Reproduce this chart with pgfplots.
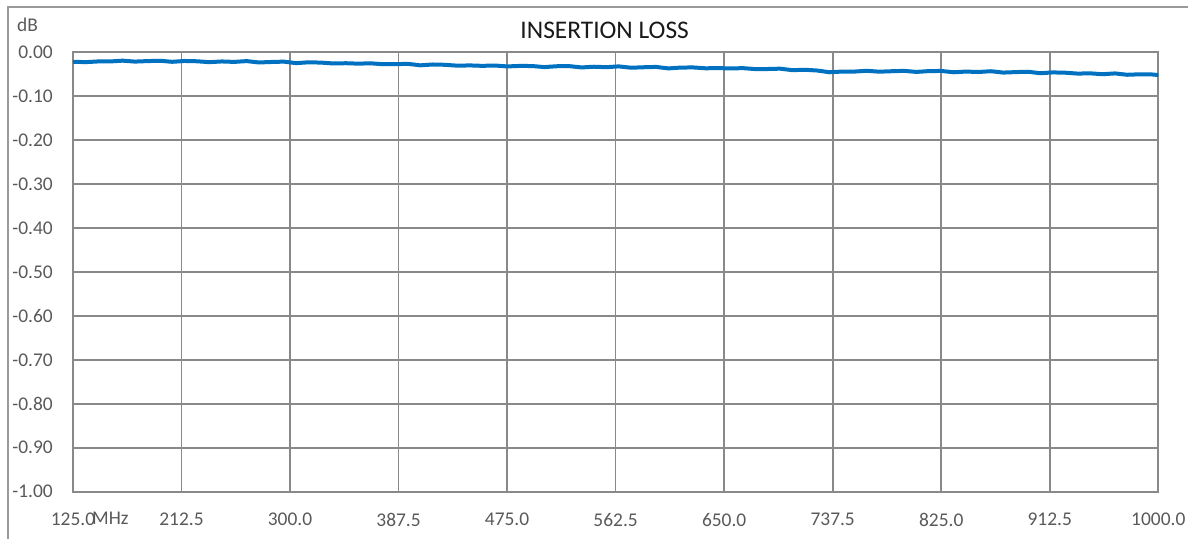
\documentclass[border=0pt]{standalone}
\usepackage{pgfplots}
\pgfplotsset{compat=1.18}
\usepackage{fontspec}
\setmainfont{Carlito}
\definecolor{linec}{HTML}{0070C0}
\definecolor{gridc}{HTML}{898989}
\definecolor{txtc}{HTML}{595959}
\definecolor{framec}{HTML}{9A9A9A}
\begin{document}
\begin{tikzpicture}[x=1bp,y=1bp]
\path (0,0) rectangle (1189,539);
\draw[framec, line width=1.3bp] (8,0) -- (8,532) -- (1189,532);
\begin{axis}[
  at={(73bp,47bp)}, anchor=south west,
  width=1086bp, height=440bp, scale only axis,
  xmin=125, xmax=1000, ymin=-1, ymax=0,
  xtick={125,212.5,300,387.5,475,562.5,650,737.5,825,912.5,1000},
  xticklabels={125.0,212.5,300.0,387.5,475.0,562.5,650.0,737.5,825.0,912.5,1000.0},
  ytick={-1,-0.9,-0.8,-0.7,-0.6,-0.5,-0.4,-0.3,-0.2,-0.1,0},
  yticklabels={-1.00,-0.90,-0.80,-0.70,-0.60,-0.50,-0.40,-0.30,-0.20,-0.10,0.00},
  major tick length=0pt,
  grid=major,
  major grid style={draw=gridc, line width=1.6bp},
  axis line style={draw=gridc, line width=2bp},
  ticklabel style={font=\fontsize{19.5}{22}\selectfont, text=txtc, inner sep=0pt},
  yticklabel style={anchor=east, xshift=-20bp},
  xticklabel style={anchor=north, yshift=-21bp},
  clip=false,
]
\addplot[linec, line width=4bp, line join=round] coordinates {
(125,-0.0222)(135,-0.0232)(145,-0.0216)(155,-0.0216)(165,-0.0198)(175,-0.0219)(185,-0.0208)(195,-0.0200)(205,-0.0224)(215,-0.0205)
(225,-0.0212)(235,-0.0232)(245,-0.0216)(255,-0.0226)(265,-0.0208)(275,-0.0239)(285,-0.0228)(295,-0.0220)(305,-0.0254)(315,-0.0235)
(325,-0.0242)(335,-0.0262)(345,-0.0256)(355,-0.0266)(365,-0.0258)(375,-0.0279)(385,-0.0278)(395,-0.0270)(405,-0.0304)(415,-0.0285)
(425,-0.0292)(435,-0.0312)(445,-0.0306)(455,-0.0316)(465,-0.0308)(475,-0.0329)(485,-0.0318)(495,-0.0320)(505,-0.0344)(515,-0.0325)
(525,-0.0322)(535,-0.0352)(545,-0.0336)(555,-0.0346)(565,-0.0328)(575,-0.0359)(585,-0.0348)(595,-0.0340)(605,-0.0374)(615,-0.0355)
(625,-0.0352)(635,-0.0372)(645,-0.0366)(655,-0.0376)(665,-0.0368)(675,-0.0389)(685,-0.0388)(695,-0.0380)(705,-0.0414)(715,-0.0405)
(725,-0.0422)(735,-0.0462)(745,-0.0446)(755,-0.0446)(765,-0.0428)(775,-0.0449)(785,-0.0438)(795,-0.0430)(805,-0.0454)(815,-0.0435)
(825,-0.0432)(835,-0.0462)(845,-0.0446)(855,-0.0456)(865,-0.0438)(875,-0.0469)(885,-0.0458)(895,-0.0450)(905,-0.0484)(915,-0.0465)
(925,-0.0472)(935,-0.0492)(945,-0.0486)(955,-0.0506)(965,-0.0488)(975,-0.0519)(985,-0.0508)(995,-0.0512)(1000,-0.0525)
};
\end{axis}
\node[anchor=base, inner sep=0pt, font=\fontsize{25.5}{29}\selectfont, text=black!90] at (605,500) {INSERTION LOSS};
\node[anchor=base west, inner sep=0pt, font=\fontsize{19.5}{22}\selectfont, text=txtc] at (17,507) {dB};
\node[anchor=base west, inner sep=0pt, font=\fontsize{19.5}{22}\selectfont, text=txtc] at (92,14) {MHz};
\end{tikzpicture}
\end{document}
